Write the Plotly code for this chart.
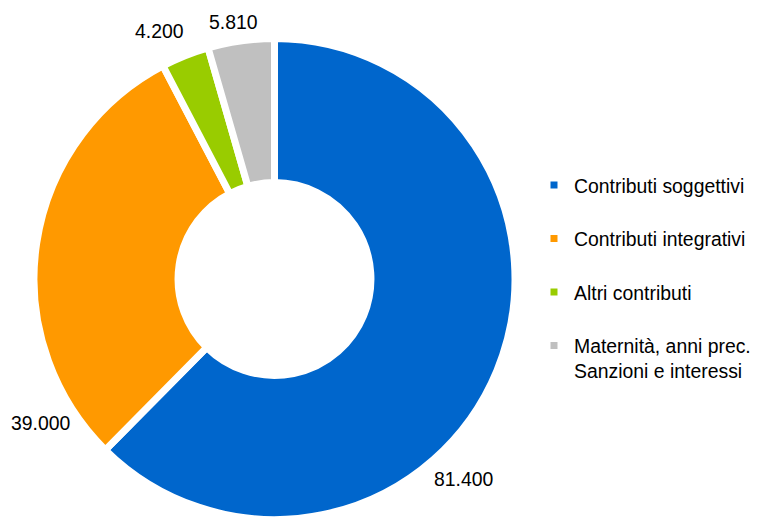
import plotly.graph_objects as go

categories = [
    "Contributi soggettivi",
    "Contributi integrativi",
    "Altri contributi",
    "Maternità, anni prec.<br>Sanzioni e interessi",
]
values = [81400, 39000, 4200, 5810]
colors = ["#0066CC", "#FF9900", "#99CC00", "#C0C0C0"]

# positions of the value labels (screen pixels from top-left) - layout only
label_xy = [(464, 479), (41, 423), (159, 31), (233, 22)]

W, H = 768, 517
OFF = 8  # page body margin offset
FONT = "Liberation Sans, Arial, sans-serif"
FS = 19.4


def fmt(v):
    return f"{v:,}".replace(",", ".")


def px_to_paper(x, y):
    return (x - OFF) / W, 1 - (y - OFF) / H


# pie geometry (screen px): centre and radius incl. half of the white stroke
CX, CY, R = 274.5, 279.0, 240.5
dx0, dy1 = px_to_paper(CX - R, CY - R)
dx1, dy0 = px_to_paper(CX + R, CY + R)

# legend labels: every entry padded to two lines so spacing matches
legend_labels = [c if "<br>" in c else c + "<br> " for c in categories]

fig = go.Figure(
    go.Pie(
        labels=legend_labels,
        values=values,
        marker=dict(colors=colors, line=dict(color="white", width=7)),
        hole=0.401,
        sort=False,
        direction="clockwise",
        rotation=0,
        textinfo="none",
        domain=dict(x=[dx0, dx1], y=[max(dy0, 0), min(dy1, 1)]),
        hoverinfo="label+value",
    )
)

annotations = []
for v, (x, y) in zip(values, label_xy):
    px, py = px_to_paper(x, y)
    annotations.append(
        dict(
            x=px,
            y=py,
            xref="paper",
            yref="paper",
            text=fmt(v),
            showarrow=False,
            xanchor="center",
            yanchor="middle",
            font=dict(family=FONT, size=FS, color="#000000"),
        )
    )

lx, ly = px_to_paper(534, 166)
fig.update_layout(
    width=W,
    height=H,
    margin=dict(l=0, r=0, t=0, b=0, autoexpand=False),
    paper_bgcolor="white",
    plot_bgcolor="white",
    font=dict(family=FONT, size=FS, color="#000000"),
    showlegend=True,
    legend=dict(
        x=lx,
        y=ly,
        xanchor="left",
        yanchor="top",
        valign="top",
        font=dict(family=FONT, size=FS, color="#000000"),
        bgcolor="rgba(0,0,0,0)",
        traceorder="normal",
    ),
    annotations=annotations,
)

fig.write_html("out.html")
